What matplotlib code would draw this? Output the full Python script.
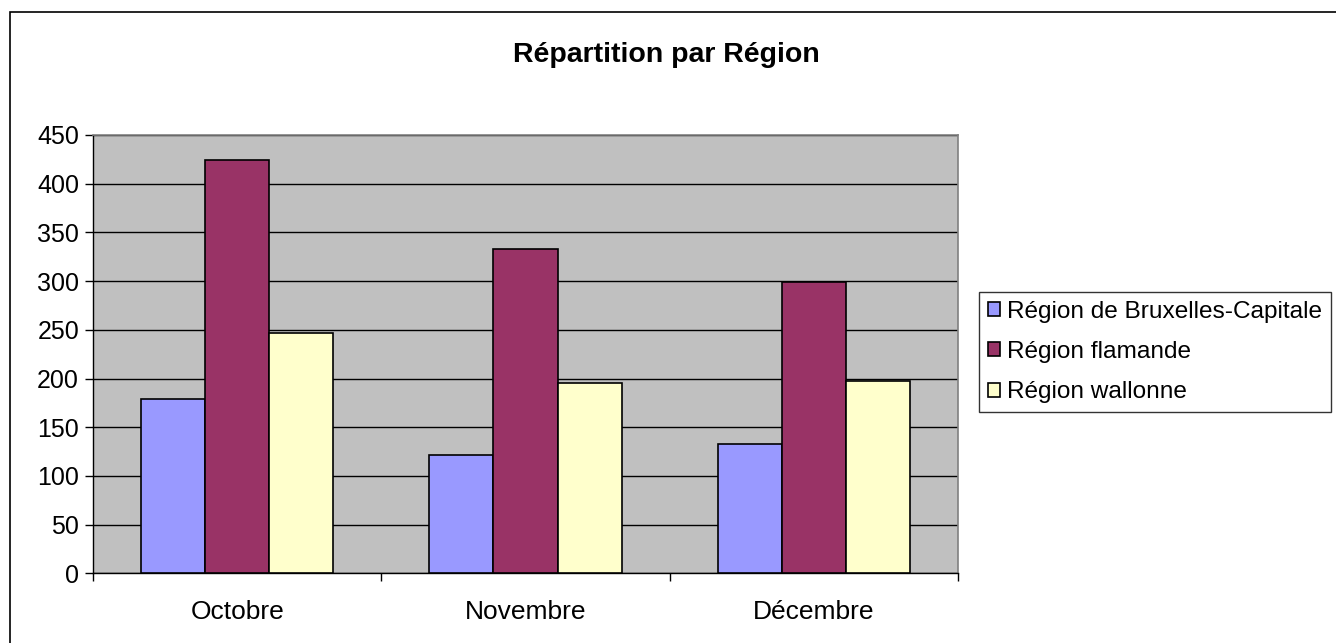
import matplotlib
matplotlib.use("Agg")
import matplotlib.pyplot as plt
import numpy as np
from matplotlib.patches import Rectangle

plt.rcParams["font.family"] = ["Liberation Sans", "DejaVu Sans"]

# ── données ──────────────────────────────────────────────
mois = ["Octobre", "Novembre", "Décembre"]
regions = ["Région de Bruxelles-Capitale", "Région flamande", "Région wallonne"]
bruxelles = [179, 121, 133]
flamande = [424, 333, 299]
wallonne = [247, 195, 197]
couleurs = ["#9999FF", "#993366", "#FFFFCC"]
yticks = [0, 50, 100, 150, 200, 250, 300, 350, 400, 450]

W, H = 1336, 643
fig = plt.figure(figsize=(W / 100, H / 100), dpi=100)

# cadre extérieur (bords droit/bas hors image)
fig.patches.append(Rectangle((10 / W, -0.1), 1.2, 1 - 12 / H + 0.1,
                             transform=fig.transFigure, fill=False,
                             edgecolor="#000000", linewidth=1.2))

ax = fig.add_axes([93 / W, (H - 573.3) / H, (958 - 93) / W, (573.3 - 135) / H])
ax.set_facecolor("#C0C0C0")

n = len(regions)
bw = 1 / (n + 1.5)
x = np.arange(len(mois)) + 0.5
for i, (vals, c, lab) in enumerate(zip([bruxelles, flamande, wallonne], couleurs, regions)):
    ax.bar(x + (i - 1) * bw, vals, width=bw, color=c, edgecolor="black",
           linewidth=1.2, label=lab, zorder=3)

ax.set_xlim(0, len(mois))
ax.set_ylim(0, 450)
ax.set_yticks(yticks)
ax.yaxis.grid(True, color="black", linewidth=1, zorder=0)
ax.set_axisbelow(True)

ax.set_xticks(np.arange(len(mois) + 1))
ax.set_xticklabels([])
ax.set_xticks(x, minor=True)
ax.set_xticklabels(mois, minor=True)
ax.tick_params(axis="x", which="minor", length=0, pad=19, labelsize=19)
ax.tick_params(axis="x", which="major", length=6, width=1, color="black")
ax.tick_params(axis="y", length=6, width=1, labelsize=18, pad=4)

for s in ["left", "bottom"]:
    ax.spines[s].set_color("black")
    ax.spines[s].set_linewidth(1)
for s in ["top", "right"]:
    ax.spines[s].set_color("#808080")
    ax.spines[s].set_linewidth(1.2)

fig.text(666 / W, 1 - 55 / H, "Répartition par Région", ha="center", va="center",
         fontsize=20.5, fontweight="bold")

leg = fig.legend(loc="upper left", bbox_to_anchor=(979 / W, 1 - 292 / H),
                 fontsize=17.6, frameon=True, fancybox=False, borderpad=0.36,
                 handlelength=0.5, handleheight=0.5, handletextpad=0.28,
                 labelspacing=0.75, borderaxespad=0)
leg.get_frame().set_edgecolor("black")
leg.get_frame().set_linewidth(1)

fig.savefig("out.png", dpi=100)
